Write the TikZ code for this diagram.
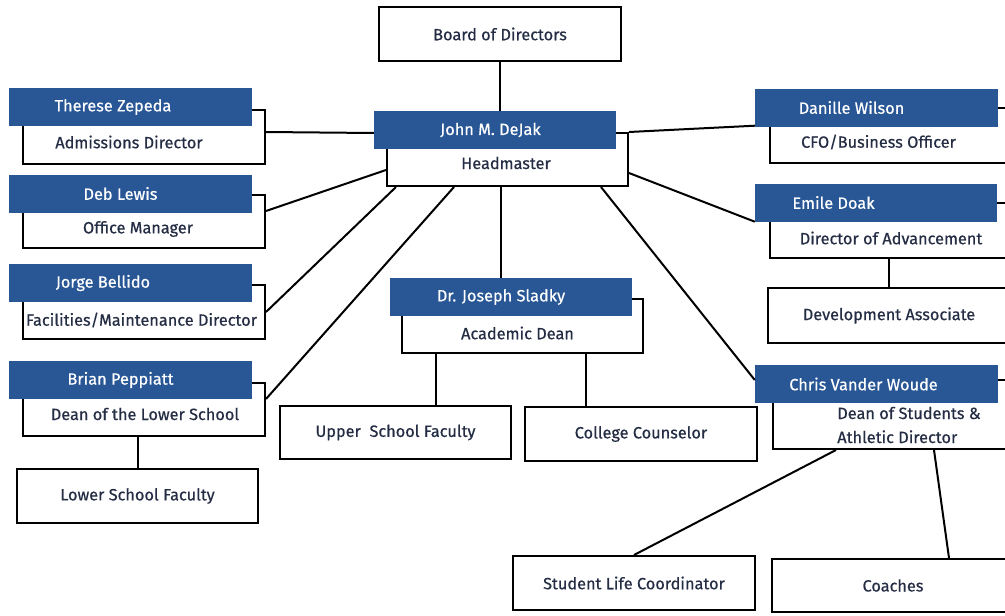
\documentclass[tikz,border=0pt]{standalone}
\usepackage{fontspec}
\setmainfont{Fira Sans}[FakeBold=0.5]
\usepackage{xcolor}
\definecolor{cardblue}{RGB}{41,87,150}
\definecolor{inkblue}{RGB}{36,45,68}
\tikzset{
  every node/.style={font=\fontsize{16.3}{24}\selectfont, text=inkblue},
  plainbox/.style={draw=black, line width=2pt, fill=white, inner sep=0pt,
    minimum height=54pt},
  titlebox/.style={plainbox, minimum width=242pt},
  namebar/.style={fill=cardblue, inner sep=0pt, minimum width=243pt,
    minimum height=38pt},
  nametext/.style={text=white},
  link/.style={draw=black, line width=2pt}
}

\begin{document}
\begin{tikzpicture}[x=1pt, y=-1pt]
  \useasboundingbox (0,0) rectangle (1005,616);
  \clip (0,0) rectangle (1005,616);

  % top
  \node[plainbox, minimum width=242pt] (board) at (500,34) {Board of Directors};
  \node[titlebox, minimum width=241pt, minimum height=53pt,
    label={[xshift=-1.5pt, yshift=-3.5pt]center:Headmaster}] (jdbox) at (507.5,159.5) {};
  \node[namebar, minimum width=242pt,
    label={[nametext, xshift=-4.5pt]center:John M. DeJak}] (jdbar) at (495,130) {};

  % left column
  \node[titlebox, label={[xshift=-15pt, yshift=-5pt]center:Admissions Director}] (tzbox) at (144,137) {};
  \node[namebar, label={[nametext, xshift=-17.5pt]center:Therese Zepeda}] (tzbar) at (130.5,107) {};
  \node[titlebox, minimum height=53pt, label={[xshift=-6pt, yshift=-7.5pt]center:Office Manager}] (dlbox) at (144,221.5) {};
  \node[namebar, label={[nametext, xshift=-10pt]center:Deb Lewis}] (dlbar) at (130.5,193.5) {};
  \node[titlebox, label={[xshift=-2.5pt, yshift=-8pt]center:Facilities/Maintenance Director}] (jbbox) at (144,312) {};
  \node[namebar, label={[nametext, xshift=-27.5pt]center:Jorge Bellido}] (jbbar) at (130.5,283) {};
  \node[titlebox, minimum height=53pt, label={[xshift=1pt, yshift=-4.5pt]center:Dean of the Lower School}] (bpbox) at (144,409.5) {};
  \node[namebar, label={[nametext, xshift=-10pt]center:Brian Peppiatt}] (bpbar) at (130.5,380) {};
  \node[plainbox, minimum width=241pt] (lsf) at (137.5,496) {Lower School Faculty};

  % middle
  \node[titlebox, minimum width=241pt, label={[xshift=-5pt, yshift=-7pt]center:Academic Dean}] (jsbox) at (522.5,326) {};
  \node[namebar, minimum width=242pt, label={[nametext, xshift=-10pt]center:Dr. Joseph Sladky}] (jsbar) at (511,297) {};
  \node[plainbox, minimum width=231pt, minimum height=53pt] (usf) at (395.5,432.5) {Upper\ \ School Faculty};
  \node[plainbox, minimum width=232pt] (cc) at (641,434) {College Counselor};

  % right column
  \node[titlebox, minimum height=55pt, label={[xshift=-12.5pt, yshift=-6.5pt]center:CFO/Business Officer}] (dwbox) at (891,135.5) {};
  \node[namebar, label={[nametext, xshift=-25pt]center:Danille Wilson}] (dwbar) at (876.5,107.5) {};
  \node[titlebox, minimum height=55pt, label={[yshift=-7.5pt]center:Director of Advancement}] (edbox) at (891,230.5) {};
  \node[namebar, minimum width=242pt, label={[nametext, xshift=-42.5pt]center:Emile Doak}] (edbar) at (876,202.5) {};
  \node[titlebox, minimum height=55pt] (da) at (889,315.5) {Development Associate};
  \node[titlebox, minimum height=69pt,
    label={[align=left, xshift=15pt, yshift=-10.5pt]center:Dean of Students \&\\Athletic Director}] (cvbox) at (894,414.5) {};
  \node[namebar, label={[nametext, xshift=-13pt]center:Chris Vander Woude}] (cvbar) at (876.5,384) {};
  \node[titlebox] (slc) at (634,583) {Student Life Coordinator};
  \node[titlebox, minimum height=53pt] (coach) at (893,585.5) {Coaches};

  % connectors
  \draw[link] (board.south) -- (board.south |- jdbar.north);
  \draw[link] ([yshift=5pt]tzbox.east) -- ([yshift=-3pt]jdbar.west);
  \draw[link] ([yshift=10.5pt]dlbox.east) -- ([yshift=-10.5pt]jdbox.west);
  \draw[link] (jbbox.east) -- ([xshift=10pt]jdbox.south west);
  \draw[link] ([yshift=10.5pt]bpbox.east) -- ([xshift=68pt]jdbox.south west);
  \draw[link] ([xshift=-6pt]bpbox.south) -- ([xshift=-6pt]bpbox.south |- lsf.north);
  \draw[link] ([xshift=-6.5pt]jdbox.south) -- ([xshift=-6.5pt]jdbox.south |- jsbar.north);
  \draw[link] ([xshift=40pt]usf.north) -- ([xshift=40pt]usf.north |- jsbox.south);
  \draw[link] ([xshift=-55pt]cc.north) -- ([xshift=-55pt]cc.north |- jsbox.south);
  \draw[link] (jdbox.north east) -- ([yshift=1pt]dwbar.south west);
  \draw[link] ([yshift=-13.5pt]jdbox.east) -- (edbar.south west);
  \draw[link] (da.north) -- (da.north |- edbox.south);
  \draw[link] ([xshift=-28pt]jdbox.south east) -- ([yshift=4pt]cvbar.west);
  \draw[link] ([xshift=-58pt]cvbox.south) -- (slc.north);
  \draw[link] ([xshift=40pt]cvbox.south) -- ([xshift=56pt]coach.north);
\end{tikzpicture}
\end{document}
